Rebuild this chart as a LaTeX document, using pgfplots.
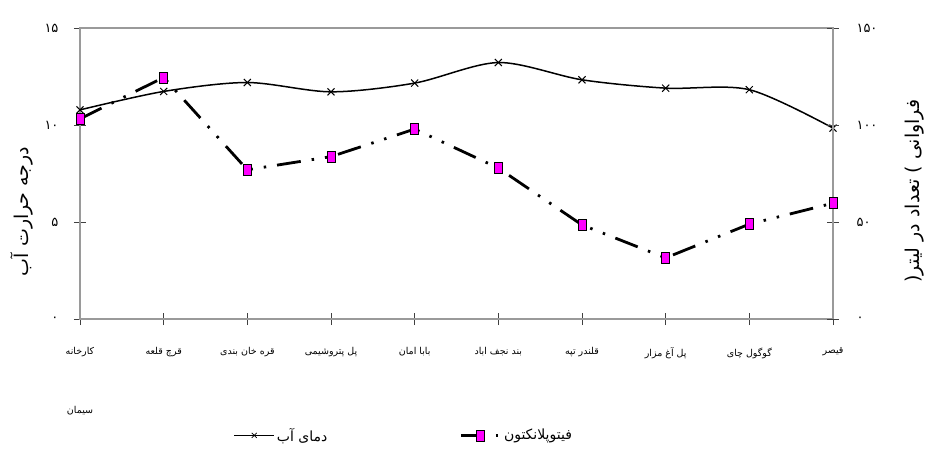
\documentclass[border=0pt]{standalone}
\usepackage{pgfplots}
\pgfplotsset{compat=1.18}
\usepackage{fontspec}
\setmainfont{Liberation Serif}
\newfontfamily\fa[Script=Arabic]{DejaVu Sans}
\TeXXeTstate=1
\definecolor{axgray}{HTML}{9A9A9A}
\definecolor{mag}{HTML}{FF00FF}

\pgfplotstableread{
x temp phyto
0 10.78 103.2
1 11.73 124.5
2 12.19 76.9
3 11.71 83.7
4 12.16 97.9
5 13.22 77.8
6 12.33 48.5
7 11.90 31.5
8 11.82 48.9
9 9.84 59.7
}\data

\begin{document}
\begin{tikzpicture}
\useasboundingbox (0,0) rectangle (932pt,453pt);
\begin{axis}[
  at={(80pt,134pt)}, anchor=south west,
  scale only axis, width=753pt, height=291pt,
  xmin=0, xmax=9, ymin=0, ymax=15,
  xtick={0,...,9},
  xticklabels={
    {{\fa\beginR کارخانه\endR}\\[48pt]{\fa\beginR سیمان\endR}},
    {\fa\beginR قرچ قلعه\endR},
    {\fa\beginR قره خان بندی\endR},
    {\fa\beginR پل پتروشیمی\endR},
    {\fa\beginR بابا امان\endR},
    {\fa\beginR بند نجف اباد\endR},
    {\fa\beginR قلندر تپه\endR},
    {\fa\beginR پل آغ مزار\endR},
    {\fa\beginR گوگول چای\endR},
    {\fa\beginR قیصر\endR}},
  ytick={0,5,10,15},
  yticklabels={{\fa ۰},{\fa ۵},{\fa ۱۰},{\fa ۱۵}},
  axis line style={draw=axgray, line width=1.6pt},
  tick align=center,
  major tick length=12pt,
  tick style={black!75, line width=0.8pt},
  ytick pos=left, xtick pos=bottom,
  xticklabel style={font=\fontsize{9.5}{11}\selectfont, align=center, anchor=north, yshift=-19pt},
  yticklabel style={font=\fontsize{13}{15}\selectfont, xshift=-12pt},
  ylabel={\fa\beginR درجه حرارت آب\endR},
  ylabel style={at={(axis description cs:-0.077,0.37)}, anchor=center, font=\fontsize{19}{21}\selectfont},
  clip=false,
]
\addplot[black, line width=1.5pt, smooth, mark=x, mark size=5pt, mark options={solid, line width=1pt}] table[x=x, y=temp] {\data};
\end{axis}
\begin{axis}[
  at={(80pt,134pt)}, anchor=south west,
  scale only axis, width=753pt, height=291pt,
  xmin=0, xmax=9, ymin=0, ymax=150,
  axis x line=none,
  axis y line*=right,
  ytick={0,50,100,150},
  yticklabels={{\fa ۰},{\fa ۵۰},{\fa ۱۰۰},{\fa ۱۵۰}},
  axis line style={draw=axgray, line width=1.6pt, -},
  tick align=center,
  major tick length=12pt,
  tick style={black!75, line width=0.8pt},
  yticklabel style={font=\fontsize{13}{15}\selectfont, xshift=14pt},
  ylabel={\fa\beginR فراوانی ) تعداد در لیتر{}(\endR},
  ylabel style={at={(axis description cs:1.109,0.44)}, anchor=center, font=\fontsize{19}{21}\selectfont},
  legend columns=2,
  legend style={at={(axis description cs:0.43,-0.40)}, anchor=center, draw=none, fill=none,
    font=\fontsize{14}{16}\selectfont,
    /tikz/every even column/.append style={column sep=130pt}},
  legend image code/.code={\draw[mark repeat=2,mark phase=2] plot coordinates {(0cm,0cm) (0.7cm,0cm) (1.4cm,0cm)};},
  clip=false,
]
\addlegendimage{black, line width=1.5pt, mark=x, mark size=3.5pt, mark options={solid, line width=0.8pt}}
\addlegendentry{\fa\beginR دمای آب\endR}
\addplot[black, line width=2.8pt, dash pattern=on 24pt off 11pt on 2.5pt off 11pt on 2.5pt off 11pt,
  mark=square*, mark size=5.5pt, mark options={solid, fill=mag, draw=black, line width=0.8pt, xscale=0.72}]
  table[x=x, y=phyto] {\data};
\addlegendentry{\fa\beginR فیتوپلانکتون\endR}
\end{axis}
\end{tikzpicture}
\end{document}
